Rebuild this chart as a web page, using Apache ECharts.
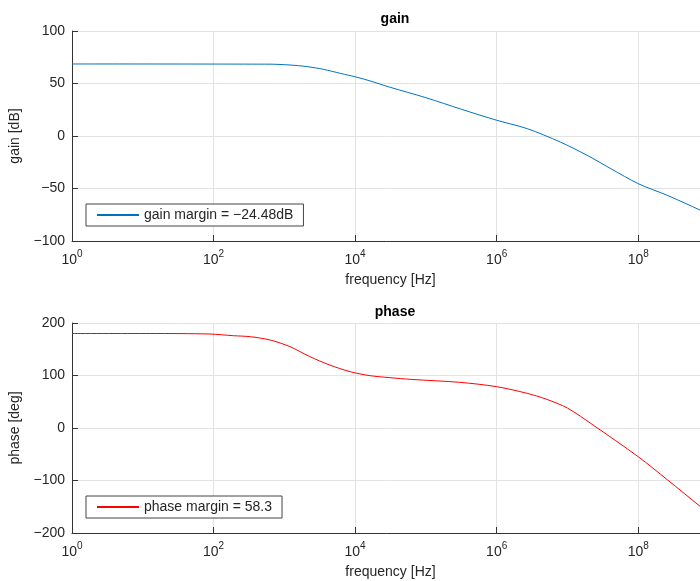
<!DOCTYPE html>
<html>
<head>
<meta charset="utf-8">
<script src="https://cdn.jsdelivr.net/npm/echarts@6/dist/echarts.min.js"></script>
<style>
html,body{margin:0;padding:0;background:#fff;}
#chart{width:700px;height:581px;}
</style>
</head>
<body>
<div id="chart"></div>
<script>
// ---- data ----
const gainFreqHz = [1, 630, 1200, 2090, 3550, 6170, 10700, 15800, 30900, 1e5, 3.16e5, 1e6, 2.7e6, 7.9e6, 1.9e7, 4.1e7, 1e8, 2.57e8, 7.6e8, 1e9];
const gainDb     = [68.6, 68.4, 67.6, 66.1, 63.5, 59.7, 55.9, 52.7, 46.5, 36.5, 25.5, 15.0, 7.0, -5.7, -18.4, -31.1, -45.4, -56.5, -70.8, -75];
const phaseFreqHz = [1, 12.6, 89, 190, 330, 630, 1200, 2290, 4370, 8500, 16200, 30900, 63000, 3e5, 1e6, 2.7e6, 5e6, 1e7, 2.3e7, 1e8, 2.6e8, 7.6e8, 1e9];
const phaseDeg    = [180, 180, 179, 175.8, 173.9, 167.6, 155, 136, 120, 107.3, 99.7, 95.9, 92.5, 87, 78.7, 66, 55, 38, 5.7, -54.7, -99, -150, -163];
const gainLegend = 'gain margin = \u221224.48dB';
const phaseLegend = 'phase margin = 58.3';
const titles = ['gain', 'phase'];
const yNames = ['gain [dB]', 'phase [deg]'];
const xName = 'frequency [Hz]';

const FONT = '"Liberation Sans", Arial, sans-serif';
const TXT = '#262626';

function pairs(xs, ys){ return xs.map((x,i)=>[x, ys[i]]); }
function minus(v){ return String(v).replace('-', '\u2212'); }

function xAxis(gi){
  return {
    type: 'log', logBase: 100, gridIndex: gi, min: 1, max: 1e9,
    name: xName, nameLocation: 'middle', nameGap: 32,
    nameTextStyle: {fontFamily: FONT, fontSize: 14, color: TXT},
    axisLine: {show: true, onZero: false, lineStyle: {color: '#333', width: 1}},
    axisTick: {show: true, inside: true, length: 6, lineStyle: {color: '#333'}},
    minorTick: {show: false},
    splitLine: {show: true, lineStyle: {color: '#e3e3e3', width: 1}},
    axisLabel: {
      show: true, margin: 12, showMaxLabel: false,
      formatter: function(v){ const e = Math.round(Math.log10(v)); return '{b|10}{s|' + e + '}'; },
      rich: {
        b: {fontFamily: FONT, fontSize: 14, color: TXT, lineHeight: 14, verticalAlign: 'bottom'},
        s: {fontFamily: FONT, fontSize: 10, color: TXT, lineHeight: 10, padding: [0,0,11,0]}
      }
    }
  };
}
function yAxis(gi, min, max, interval, name){
  return {
    type: 'value', gridIndex: gi, min: min, max: max, interval: interval,
    name: name, nameLocation: 'middle', nameGap: 40,
    nameTextStyle: {fontFamily: FONT, fontSize: 14, color: TXT},
    axisLine: {show: true, onZero: false, lineStyle: {color: '#333', width: 1}},
    axisTick: {show: true, inside: true, length: 6, lineStyle: {color: '#333'}},
    splitLine: {show: true, lineStyle: {color: '#e3e3e3', width: 1}},
    axisLabel: {fontFamily: FONT, fontSize: 14, color: TXT, margin: 7, formatter: minus}
  };
}
function legend(top, name){
  return {
    data: [name], left: 86, top: top, orient: 'horizontal',
    backgroundColor: '#fff', borderColor: '#444', borderWidth: 1,
    padding: [4, 10, 4, 10], itemWidth: 42, itemHeight: 14, itemGap: 5,
    itemStyle: {opacity: 0},
    textStyle: {fontFamily: FONT, fontSize: 14, color: TXT},
    selectedMode: false
  };
}

const chart = echarts.init(document.getElementById('chart'), null, {renderer: 'canvas'});
chart.setOption({
  animation: false,
  backgroundColor: '#fff',
  title: [
    {text: titles[0], left: 390, top: 7, textAlign: 'center', textStyle: {fontFamily: FONT, fontSize: 14, fontWeight: 'bold', color: '#000'}},
    {text: titles[1], left: 390, top: 300, textAlign: 'center', textStyle: {fontFamily: FONT, fontSize: 14, fontWeight: 'bold', color: '#000'}}
  ],
  grid: [
    {left: 72, width: 637, top: 31, height: 210, outerBoundsMode: 'none', containLabel: false},
    {left: 72, width: 637, top: 323, height: 210, outerBoundsMode: 'none', containLabel: false}
  ],
  xAxis: [xAxis(0), xAxis(1)],
  yAxis: [yAxis(0, -100, 100, 50, yNames[0]), yAxis(1, -200, 200, 100, yNames[1])],
  legend: [legend(204, gainLegend), legend(496, phaseLegend)],
  series: [
    {name: gainLegend, type: 'line', xAxisIndex: 0, yAxisIndex: 0, data: pairs(gainFreqHz, gainDb),
     symbol: 'none', smooth: 0.3, lineStyle: {color: '#0072BD', width: 1}, itemStyle: {color: '#0072BD'}},
    {name: phaseLegend, type: 'line', xAxisIndex: 1, yAxisIndex: 1, data: pairs(phaseFreqHz, phaseDeg),
     symbol: 'none', smooth: 0.3, lineStyle: {color: '#FF0000', width: 1}, itemStyle: {color: '#FF0000'}}
  ]
});
</script>
</body>
</html>
